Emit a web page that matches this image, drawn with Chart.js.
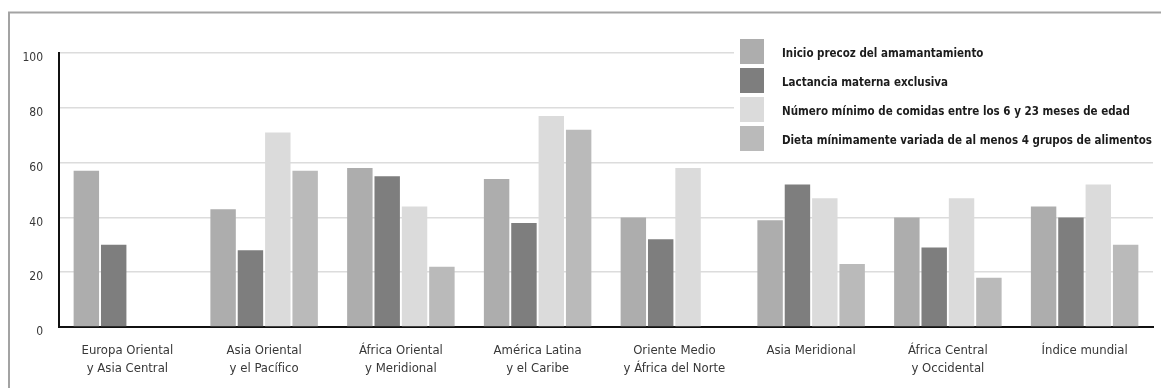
<!DOCTYPE html>
<html lang="es">
<head>
<meta charset="utf-8">
<title>Alimentación del lactante y del niño pequeño por región</title>
<script src="https://cdn.jsdelivr.net/npm/chart.js@4.4.1/dist/chart.umd.min.js"></script>
<style>
  html, body { margin: 0; padding: 0; background: #ffffff; }
  #wrap { position: relative; width: 1161px; height: 388px; }
  canvas { display: block; }
</style>
</head>
<body>
<div id="wrap"><canvas id="chart" width="1161" height="388"></canvas></div>
<script>
// Regions (two-line labels)
const categories = [
  ["Europa Oriental", "y Asia Central"],
  ["Asia Oriental", "y el Pacífico"],
  ["África Oriental", "y Meridional"],
  ["América Latina", "y el Caribe"],
  ["Oriente Medio", "y África del Norte"],
  ["Asia Meridional"],
  ["África Central", "y Occidental"],
  ["Índice mundial"]
];

// Percentages per indicator
const inicioPrecoz   = [57, 43, 58, 54, 40, 39, 40, 44];
const lactancia      = [30, 28, 55, 38, 32, 52, 29, 40];
const comidasMinimas = [null, 71, 44, 77, 58, 47, 47, 52];
const dietaVariada   = [null, 57, 22, 72, null, 23, 18, 30];

const seriesLabels = [
  "Inicio precoz del amamantamiento",
  "Lactancia materna exclusiva",
  "Número mínimo de comidas entre los 6 y 23 meses de edad",
  "Dieta mínimamente variada de al menos 4 grupos de alimentos"
];
const seriesColors = ["#adadad", "#7e7e7e", "#dbdbdb", "#bababa"];

const yTicks = [0, 20, 40, 60, 80, 100];

const FAMILY = "'DejaVu Sans Condensed', 'DejaVu Sans', sans-serif";

// Thin frame along the top and left edges of the figure
const framePlugin = {
  id: 'frame',
  beforeDraw(chart) {
    const ctx = chart.ctx;
    ctx.save();
    ctx.strokeStyle = '#a3a3a3';
    ctx.lineWidth = 2;
    ctx.beginPath();
    ctx.moveTo(8, 12.5);
    ctx.lineTo(chart.width, 12.5);
    ctx.moveTo(9, 12);
    ctx.lineTo(9, chart.height);
    ctx.stroke();
    ctx.restore();
  }
};

// Legend block in the upper right of the plot, over the grid lines.
// Text is squeezed horizontally so the longest entry fits its column.
const legendBoxPlugin = {
  id: 'legendBox',
  beforeDatasetsDraw(chart) {
    const ctx = chart.ctx;
    const area = chart.chartArea;
    ctx.save();
    ctx.fillStyle = '#ffffff';
    ctx.fillRect(734, area.top - 20, area.right - 734, 125);
    const boxX = 740, boxW = 24, boxH = 25, startY = 39, pitch = 29;
    const textX = 782, textColW = 370;
    ctx.font = "bold 13px " + FAMILY;
    ctx.textBaseline = 'middle';
    ctx.textAlign = 'left';
    const widest = Math.max(...chart.data.datasets.map(ds => ctx.measureText(ds.label).width));
    const sx = Math.min(1, textColW / widest);
    chart.data.datasets.forEach((ds, i) => {
      const y = startY + i * pitch;
      ctx.fillStyle = ds.backgroundColor;
      ctx.fillRect(boxX, y, boxW, boxH);
      ctx.save();
      ctx.translate(textX, y + boxH / 2 + 2);
      ctx.scale(sx, 1);
      ctx.fillStyle = '#1c1c1c';
      ctx.fillText(ds.label, 0, 0);
      ctx.restore();
    });
    ctx.restore();
  }
};

const datasets = [inicioPrecoz, lactancia, comidasMinimas, dietaVariada].map((vals, i) => ({
  label: seriesLabels[i],
  data: vals,
  backgroundColor: seriesColors[i],
  borderWidth: 0,
  categoryPercentage: 0.8,
  barPercentage: 0.93
}));

new Chart(document.getElementById('chart'), {
  type: 'bar',
  data: { labels: categories, datasets },
  plugins: [framePlugin, legendBoxPlugin],
  options: {
    responsive: false,
    animation: false,
    layout: { padding: { top: 53, right: 8, left: 0, bottom: 0 } },
    plugins: {
      legend: { display: false },
      tooltip: { enabled: false }
    },
    scales: {
      x: {
        grid: { display: false },
        border: { display: true, color: '#111111', width: 2 },
        ticks: {
          color: '#383838',
          font: { family: FAMILY, size: 13, lineHeight: 1.35 },
          padding: 7,
          maxRotation: 0,
          autoSkip: false
        },
        afterFit(scale) { scale.height = 61; }
      },
      y: {
        min: 0,
        max: 100,
        afterBuildTicks(scale) { scale.ticks = yTicks.map(v => ({ value: v })); },
        grid: { color: '#dcdcdc', lineWidth: 1.5, drawTicks: false },
        border: { display: true, color: '#111111', width: 2 },
        ticks: {
          color: '#383838',
          font: { family: FAMILY, size: 12 },
          padding: 16,
          labelOffset: 5
        },
        afterFit(scale) { scale.width = 59; }
      }
    }
  }
});
</script>
</body>
</html>
